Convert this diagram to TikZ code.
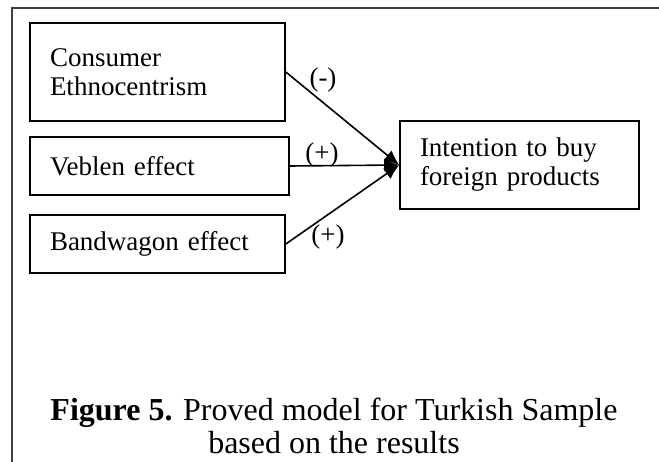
\documentclass[tikz,border=0pt]{standalone}
\usepackage{fontspec}
\setmainfont{Liberation Serif}
\usetikzlibrary{arrows.meta}

\begin{document}
\begin{tikzpicture}[x=1pt, y=-1pt,
    factor/.style={draw, line width=1.6pt, minimum height=58pt, inner xsep=20pt,
        align=left, font=\fontsize{27}{29}\selectfont},
    sign/.style={inner sep=0pt, font=\fontsize{27}{29}\selectfont},
    effect/.style={line width=1.6pt, -{Latex[length=15pt, width=13pt]}}]
    \useasboundingbox (0,0) rectangle (659,462);

    % Frame
    \draw[line width=2.5pt, black!75] (12,462) -- (12,8) -- (659,8);

    % Factors
    \node[factor, minimum height=98pt, text width=215pt] (ce) at (157.5,72) {Consumer\\Ethnocentrism};
    \node[factor, text width=219pt] (veb) at (159.5,166) {Veblen effect};
    \node[factor, text width=215pt] (band) at (157.5,244) {Bandwagon effect};

    % Outcome
    \node[factor, minimum height=88pt, text width=199pt] (intent) at (519.5,165) {Intention to buy\\foreign products};

    % Effects
    \draw[effect] (ce.east) -- (intent.west);
    \draw[effect] (veb.east) -- (intent.west);
    \draw[effect] (band.east) -- (intent.west);
    \node[sign] (neg) at (323,80) {(-)};
    \node[sign] (posveb) at (322,155) {(+)};
    \node[sign] (posband) at (328,237) {(+)};

    % Caption
    \node[align=center, font=\fontsize{32}{33}\selectfont] (caption) at (334,426)
        {\textbf{Figure 5.} Proved model for Turkish Sample\\based on the results};
\end{tikzpicture}
\end{document}
